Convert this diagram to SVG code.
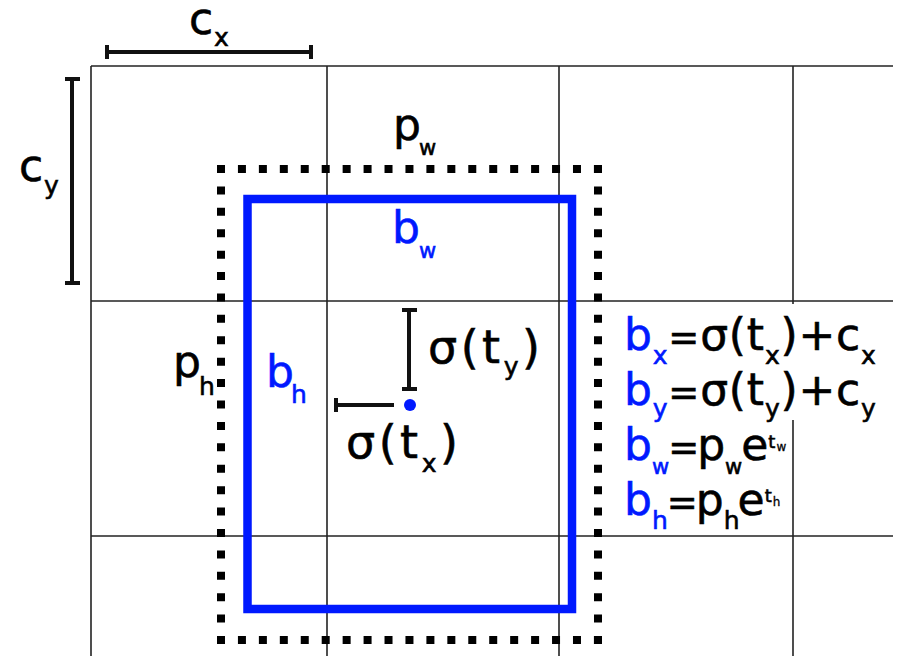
<svg xmlns="http://www.w3.org/2000/svg" width="920" height="664" viewBox="0 0 920 664">
<style>
.grid{stroke:#222;stroke-width:1.6;fill:none}
.bar{stroke:#111;stroke-width:4;fill:none}
.dot{stroke:#000;stroke-width:8;fill:none}
.t{font-family:"DejaVu Sans",sans-serif;font-size:44px;fill:#000;stroke:#000;stroke-width:0.6}
.l{font-size:46px;letter-spacing:3.5px}
.s{font-size:25px}
.sw{font-size:21px}
.eq{font-size:37px}
.sup{font-size:18px}
.ss{font-size:12px;stroke-width:0.3}
.f1{letter-spacing:0.8px}
.b{fill:#0019ff;stroke:#0019ff}
</style>
<rect width="920" height="664" fill="#fff"/>
<g id="grid">
<line class="grid" x1="91" y1="66" x2="893" y2="66"/>
<line class="grid" x1="91" y1="301" x2="893" y2="301"/>
<line class="grid" x1="91" y1="536" x2="893" y2="536"/>
<line class="grid" x1="91" y1="66" x2="91" y2="656"/>
<line class="grid" x1="327" y1="66" x2="327" y2="656"/>
<line class="grid" x1="559" y1="66" x2="559" y2="656"/>
<line class="grid" x1="793" y1="66" x2="793" y2="304"/>
<line class="grid" x1="793" y1="420" x2="793" y2="656"/>
</g>
<g id="prior-box">
<line class="dot" x1="217" y1="169" x2="602" y2="169" stroke-dasharray="8 12.94"/>
<line class="dot" x1="217" y1="640" x2="602" y2="640" stroke-dasharray="8 12.94"/>
<line class="dot" x1="221" y1="165" x2="221" y2="644" stroke-dasharray="8 13.41"/>
<line class="dot" x1="598" y1="165" x2="598" y2="644" stroke-dasharray="8 13.41"/>
</g>
<g id="pred-box">
<rect x="247.5" y="199" width="324.5" height="410" fill="none" stroke="#0019ff" stroke-width="8.5"/>
<circle cx="410" cy="405" r="6" fill="#0019ff"/>
</g>
<g id="connectors">
<path class="bar" d="M107 52H311M107 45V59M311 45V59"/>
<path class="bar" d="M72 79V283M65 79H80M65 283H80"/>
<path class="bar" d="M409 310V389M402 310H417M402 389H417"/>
<path class="bar" d="M336 405H394M336 398V412"/>
</g>
<g id="labels">
<text class="t" x="189" y="34">c<tspan class="s" x="214" y="46">x</tspan></text>
<text class="t" x="19" y="181">c<tspan class="s" x="44" y="194">y</tspan></text>
<text class="t" x="393" y="140">p<tspan class="sw" x="419" y="155">w</tspan></text>
<text class="t b" x="392" y="243">b<tspan class="sw" x="419" y="258">w</tspan></text>
<text class="t" x="173" y="377">p<tspan class="s" x="199" y="395">h</tspan></text>
<text class="t b" x="266" y="387">b<tspan class="s" x="291" y="403">h</tspan></text>
<text class="t l" x="428" y="363">σ(t<tspan class="s" y="375">y</tspan><tspan y="363">)</tspan></text>
<text class="t l" x="346" y="458">σ(t<tspan class="s" y="472">x</tspan><tspan y="458">)</tspan></text>
</g>
<g id="formulas">
<text class="t f1" x="624" y="350"><tspan class="b">b</tspan><tspan class="s b" y="364">x</tspan><tspan class="eq" y="350">=</tspan>σ(t<tspan class="s" y="364">x</tspan><tspan y="350">)+c</tspan><tspan class="s" y="364">x</tspan></text>
<text class="t f1" x="624" y="405"><tspan class="b">b</tspan><tspan class="s b" y="417">y</tspan><tspan class="eq" y="405">=</tspan>σ(t<tspan class="s" y="417">y</tspan><tspan y="405">)+c</tspan><tspan class="s" y="417">y</tspan></text>
<text class="t" x="624" y="460"><tspan class="b">b</tspan><tspan class="sw b" y="474">w</tspan><tspan class="eq" y="460" dx="-1">=</tspan><tspan dx="-2">p</tspan><tspan class="sw" y="474">w</tspan><tspan y="460" dx="-1">e</tspan><tspan class="sup" y="448">t</tspan><tspan class="ss" dx="1" y="451">w</tspan></text>
<text class="t" x="624" y="515"><tspan class="b">b</tspan><tspan class="s b" y="529">h</tspan><tspan class="eq" y="515" dx="-1">=</tspan><tspan dx="-2">p</tspan><tspan class="s" y="529">h</tspan><tspan y="515" dx="-2">e</tspan><tspan class="sup" y="502">t</tspan><tspan class="ss" dx="1" y="506">h</tspan></text>
</g>
</svg>
